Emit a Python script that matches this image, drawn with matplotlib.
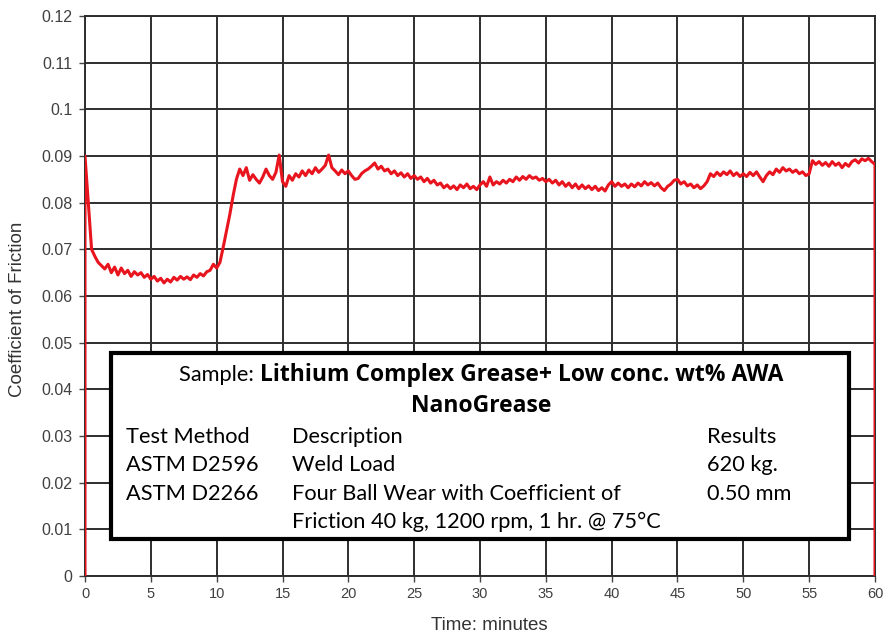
import numpy as np
import matplotlib.pyplot as plt
from matplotlib.patches import Rectangle

# coefficient of friction, one value every 0.25 min (0 .. 60)
cof = [
    0.0900, 0.0800, 0.0700, 0.0685,   # 0
    0.0672, 0.0665, 0.0658, 0.0668,   # 1
    0.0650, 0.0662, 0.0645, 0.0660,   # 2
    0.0648, 0.0655, 0.0642, 0.0652,   # 3
    0.0645, 0.0650, 0.0640, 0.0646,   # 4
    0.0636, 0.0642, 0.0632, 0.0638,   # 5
    0.0628, 0.0636, 0.0630, 0.0640,   # 6
    0.0634, 0.0642, 0.0636, 0.0641,   # 7
    0.0635, 0.0645, 0.0640, 0.0648,   # 8
    0.0643, 0.0652, 0.0655, 0.0668,   # 9
    0.0660, 0.0672, 0.0705, 0.0740,   # 10
    0.0775, 0.0815, 0.0850, 0.0872,   # 11
    0.0858, 0.0875, 0.0848, 0.0860,   # 12
    0.0850, 0.0842, 0.0855, 0.0872,   # 13
    0.0858, 0.0850, 0.0865, 0.0902,   # 14
    0.0845, 0.0835, 0.0858, 0.0848,   # 15
    0.0862, 0.0855, 0.0868, 0.0858,   # 16
    0.0870, 0.0862, 0.0875, 0.0865,   # 17
    0.0872, 0.0880, 0.0902, 0.0875,   # 18
    0.0868, 0.0860, 0.0870, 0.0862,   # 19
    0.0868, 0.0858, 0.0850, 0.0852,   # 20
    0.0862, 0.0868, 0.0872, 0.0878,   # 21
    0.0885, 0.0872, 0.0878, 0.0868,   # 22
    0.0872, 0.0862, 0.0868, 0.0858,   # 23
    0.0864, 0.0855, 0.0862, 0.0852,   # 24
    0.0858, 0.0850, 0.0855, 0.0845,   # 25
    0.0852, 0.0842, 0.0848, 0.0838,   # 26
    0.0842, 0.0832, 0.0838, 0.0830,   # 27
    0.0836, 0.0828, 0.0838, 0.0832,   # 28
    0.0840, 0.0830, 0.0835, 0.0828,   # 29
    0.0838, 0.0845, 0.0835, 0.0855,   # 30
    0.0838, 0.0845, 0.0840, 0.0848,   # 31
    0.0842, 0.0850, 0.0845, 0.0855,   # 32
    0.0848, 0.0856, 0.0850, 0.0858,   # 33
    0.0852, 0.0855, 0.0848, 0.0852,   # 34
    0.0845, 0.0850, 0.0842, 0.0848,   # 35
    0.0838, 0.0845, 0.0835, 0.0842,   # 36
    0.0832, 0.0840, 0.0830, 0.0838,   # 37
    0.0830, 0.0836, 0.0828, 0.0835,   # 38
    0.0826, 0.0832, 0.0825, 0.0838,   # 39
    0.0845, 0.0835, 0.0842, 0.0835,   # 40
    0.0840, 0.0832, 0.0840, 0.0834,   # 41
    0.0842, 0.0836, 0.0845, 0.0838,   # 42
    0.0843, 0.0836, 0.0842, 0.0832,   # 43
    0.0826, 0.0835, 0.0840, 0.0848,   # 44
    0.0850, 0.0840, 0.0845, 0.0836,   # 45
    0.0840, 0.0832, 0.0838, 0.0830,   # 46
    0.0836, 0.0845, 0.0862, 0.0856,   # 47
    0.0865, 0.0858, 0.0866, 0.0860,   # 48
    0.0868, 0.0858, 0.0864, 0.0856,   # 49
    0.0862, 0.0856, 0.0865, 0.0858,   # 50
    0.0866, 0.0855, 0.0845, 0.0858,   # 51
    0.0866, 0.0860, 0.0872, 0.0865,   # 52
    0.0875, 0.0868, 0.0872, 0.0865,   # 53
    0.0870, 0.0862, 0.0866, 0.0858,   # 54
    0.0862, 0.0890, 0.0882, 0.0888,   # 55
    0.0880, 0.0886, 0.0878, 0.0888,   # 56
    0.0880, 0.0885, 0.0875, 0.0884,   # 57
    0.0878, 0.0888, 0.0892, 0.0885,   # 58
    0.0894, 0.0890, 0.0895, 0.0888,   # 59
    0.0882,                           # 60
]
time = np.linspace(0, 60, len(cof))

x_ticks = list(range(0, 61, 5))
y_ticks = [0, 0.01, 0.02, 0.03, 0.04, 0.05, 0.06, 0.07, 0.08, 0.09, 0.1, 0.11, 0.12]
y_labels = ['0', '0.01', '0.02', '0.03', '0.04', '0.05', '0.06', '0.07', '0.08',
            '0.09', '0.1', '0.11', '0.12']

title_plain = 'Sample: '
title_bold = 'Lithium Complex Grease+ Low conc. wt% AWA'
title_bold2 = 'NanoGrease'
col_method = ['Test Method', 'ASTM D2596', 'ASTM D2266', '']
col_desc = ['Description', 'Weld Load', 'Four Ball Wear with Coefficient of',
            'Friction 40 kg, 1200 rpm, 1 hr. @ 75°C']
col_result = ['Results', '620 kg.', '0.50 mm', '']

W, H = 887, 634
fig = plt.figure(figsize=(W / 100, H / 100), dpi=100)
ax = fig.add_axes([85 / W, 1 - 576 / H, 790 / W, 560 / H])

# trace, closed down to zero at both ends like the recorder output
tx = np.concatenate([[time[0]], time, [time[-1]]])
ty = np.concatenate([[0], cof, [0]])
ax.plot(tx, ty, color='#e8141e', lw=2.2, zorder=3)

ax.set_xlim(0, 60)
ax.set_ylim(0, 0.12)
ax.set_xticks(x_ticks)
ax.set_yticks(y_ticks)
ax.set_yticklabels(y_labels)
ax.grid(True, color='#2e2e2e', lw=1.4)
for s in ax.spines.values():
    s.set_color('#2e2e2e')
    s.set_linewidth(1.4)
ax.tick_params(direction='out', length=4, width=1, color='#444444',
               labelcolor='#404040')
ax.tick_params(axis='x', labelsize=10.5, pad=4)
ax.tick_params(axis='y', labelsize=11.5, pad=5)
for lab in ax.get_xticklabels() + ax.get_yticklabels():
    lab.set_family('Liberation Sans')

fig.text(489 / W, 1 - 625 / H, 'Time: minutes', ha='center', va='center',
         fontsize=13.5, family='Liberation Sans', color='#333333')
fig.text(18 / W, 1 - 309 / H, 'Coefficient of Friction', ha='center', va='center',
         rotation=90, fontsize=13.5, family='Liberation Sans', color='#333333')

# info box
box = Rectangle((111 / W, 1 - 539 / H), (849 - 111) / W, (539 - 353) / H,
                transform=fig.transFigure, facecolor='white', edgecolor='black',
                lw=3, zorder=5)
fig.patches.append(box)

fs = 15.7
fsb = 16.5
t1 = fig.text(0, 1 - 375 / H, title_plain, ha='left', va='center',
              fontsize=fs, family='Lato', zorder=6)
t2 = fig.text(0, 1 - 375 / H, title_bold, ha='left', va='center',
              fontsize=fsb, family='Open Sans', weight='bold', zorder=6)
fig.canvas.draw()
r = fig.canvas.get_renderer()
w1 = t1.get_window_extent(r).width
w2 = t2.get_window_extent(r).width
x0 = 481 - (w1 + w2) / 2
t1.set_x(x0 / W)
t2.set_x((x0 + w1) / W)
fig.text(481 / W, 1 - 406 / H, title_bold2, ha='center', va='center',
         fontsize=fsb, family='Open Sans', weight='bold', zorder=6)

rows_y = [437, 465, 494, 522]
for i, yy in enumerate(rows_y):
    fig.text(126 / W, 1 - yy / H, col_method[i], ha='left', va='center',
             fontsize=fs, family='Lato', zorder=6)
    fig.text(292 / W, 1 - yy / H, col_desc[i], ha='left', va='center',
             fontsize=fs, family='Lato', zorder=6)
    fig.text(707 / W, 1 - yy / H, col_result[i], ha='left', va='center',
             fontsize=fs, family='Lato', zorder=6)

fig.savefig('out.png', dpi=100)
